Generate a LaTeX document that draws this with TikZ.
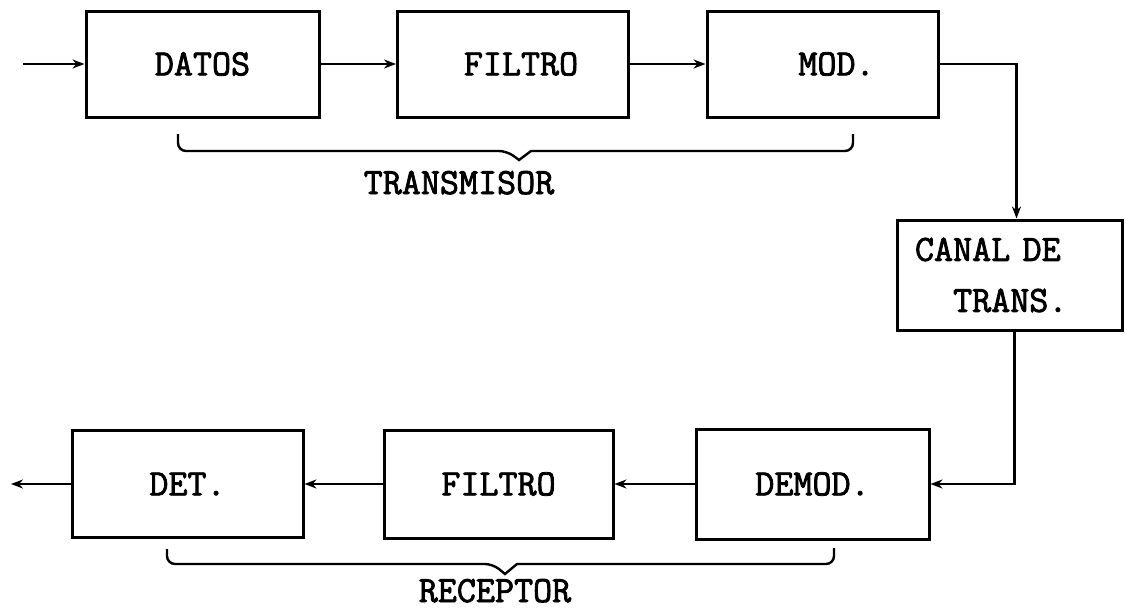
\documentclass[tikz,border=0pt]{standalone}
\usepackage{fontspec}
\newfontfamily\twfont{Latin Modern Mono}[FakeBold=2.2]
\usetikzlibrary{arrows.meta}
\begin{document}
\begin{tikzpicture}[x=1pt,y=-1pt,
  every node/.style={font=\fontsize{37}{51}\selectfont\twfont},
  blk/.style={draw, line width=3pt, inner sep=0pt},
  conn/.style={line width=2.4pt, -{Stealth[length=12pt,width=9pt]}},
  brc/.style={line width=2.4pt, rounded corners=8pt},
  lbl/.style={anchor=base, inner sep=0pt}]
\useasboundingbox (0,0) rectangle (1125,613);
% top row
\node[blk, minimum width=233pt, minimum height=106pt] (datos) at (202.5,64) {DATOS};
\node[blk, minimum width=231pt, minimum height=106pt] (filtroT) at (513,64) {\hspace{16pt}FILTRO};
\node[blk, minimum width=231pt, minimum height=106pt] (mod) at (822.5,64) {\hspace{28pt}MOD.};
% channel
\node[blk, minimum width=225pt, minimum height=110pt, align=left, text width=189pt, inner xsep=18pt] (canal) at (1009.5,275) {CANAL DE\\\phantom{CA}TRANS.};
% bottom row
\node[blk, minimum width=233pt, minimum height=110pt] (demod) at (812.5,484) {DEMOD.};
\node[blk, minimum width=229pt, minimum height=108pt] (filtroR) at (498.5,484) {FILTRO};
\node[blk, minimum width=231pt, minimum height=107pt] (det) at (187.5,484) {DET.};
% free ends
\coordinate (in) at (23,64);
\coordinate (out) at (11,484);
% connectors
\draw[conn] (in) -- (datos.west);
\draw[conn] (datos.east) -- (filtroT.west);
\draw[conn] (filtroT.east) -- (mod.west);
\draw[conn] (mod.east) -| ([xshift=7pt]canal.north);
\draw[conn] ([xshift=5pt]canal.south) |- (demod.east);
\draw[conn] (demod.west) -- (filtroR.east);
\draw[conn] (filtroR.west) -- (det.east);
\draw[conn] (det.west) -- (out);
% braces
\draw[brc] (178,134) -- (178,151) -- (507,151) [sharp corners] -- (519,160) -- (531,151) [rounded corners=8pt] -- (853,151) -- (853,134);
\draw[brc] (167,549) -- (167,564) -- (493,564) [sharp corners] -- (505,574) -- (517,564) [rounded corners=8pt] -- (834,564) -- (834,548);
% labels
\node[lbl] (tx) at (459,194) {TRANSMISOR};
\node[lbl] (rx) at (495,602) {RECEPTOR};
\end{tikzpicture}
\end{document}
